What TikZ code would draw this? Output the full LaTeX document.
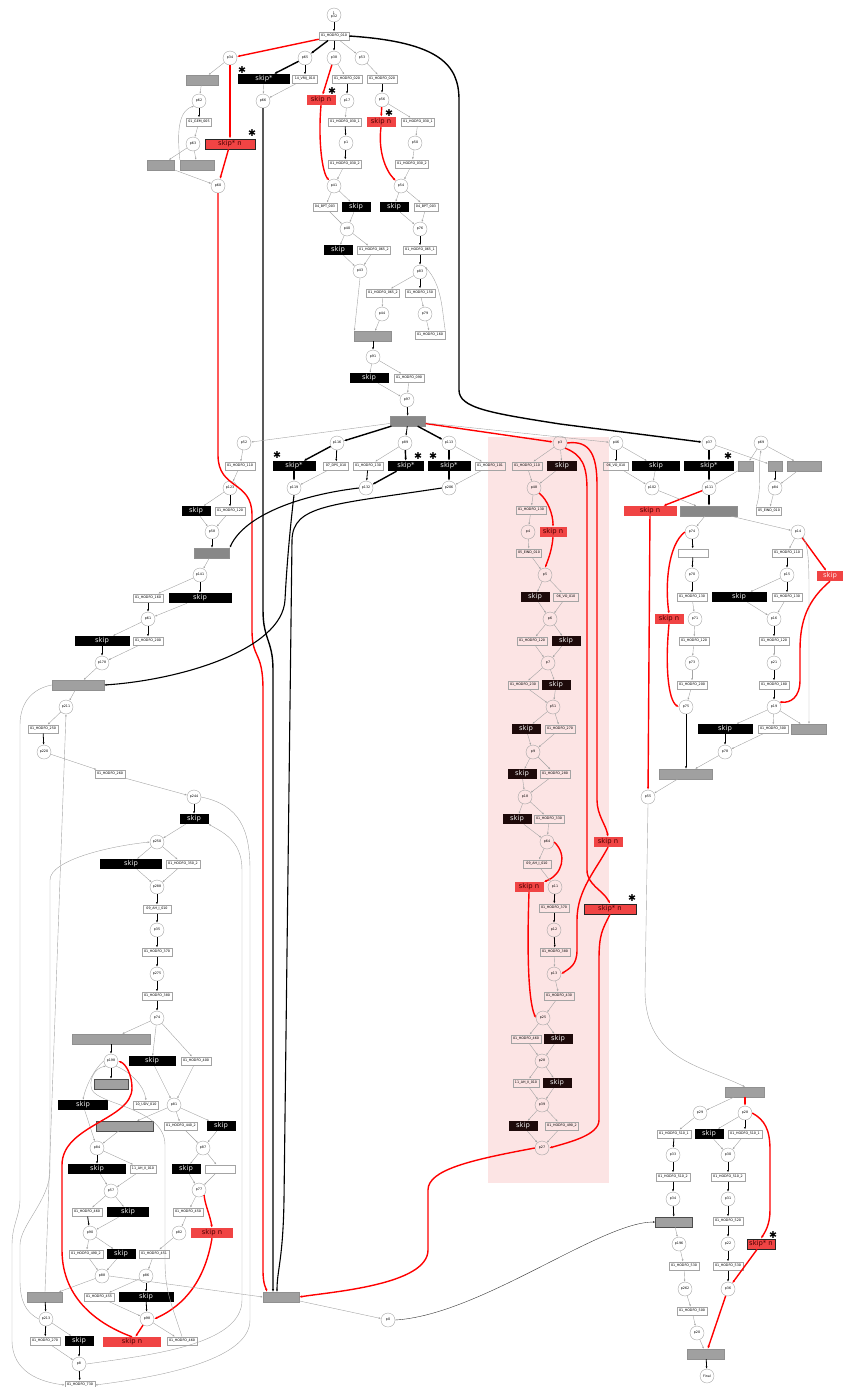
\documentclass[tikz,border=0pt]{standalone}
\usepackage{fontspec}
\setmainfont{DejaVu Sans}
\usetikzlibrary{arrows.meta}
\definecolor{pk}{HTML}{FCE4E4}
\definecolor{rd}{HTML}{F04444}
\definecolor{dk}{HTML}{1E0A0A}
\definecolor{gf}{HTML}{A0A0A0}
\definecolor{gd}{HTML}{888888}
\definecolor{ln}{HTML}{A4A4A4}
\newcommand{\lbl}{\fontsize{3.3}{3.6}\selectfont}
\newcommand{\skf}{\fontsize{6.8}{7}\selectfont}
\newcommand{\HO}[1]{01\_HODFO\_#1}
\newcommand{\mkP}[3]{\node[pl] (#1) at (#2) {#3};}
\newcommand{\mkT}[4]{\node[tr,minimum width=#2] (#1) at (#3) {#4};}
\newcommand{\mkS}[5]{\node[#1,minimum width=#3] (#2) at (#4) {#5};}
\newcommand{\mkG}[3]{\node[gb,minimum width=#2] (#1) at (#3) {};}
\newcommand{\E}[3]{\draw[#1] (#2) -- (#3);}
\begin{document}
\begin{tikzpicture}[x=1pt,y=-1pt,
 pl/.style={circle,draw=ln,line width=0.4pt,minimum size=14pt,inner sep=0pt,font=\lbl},
 tr/.style={rectangle,draw=ln,line width=0.5pt,minimum height=8.5pt,inner sep=0pt,font=\lbl},
 sk/.style={rectangle,fill=black,text=white!85!gray,minimum height=10pt,inner sep=0pt,font=\skf},
 dsk/.style={sk,fill=dk},
 rsk/.style={rectangle,fill=rd,text=black!70!red,minimum height=10pt,inner sep=0pt,font=\skf},
 rsb/.style={rsk,draw=black!85,line width=0.8pt},
 gb/.style={rectangle,fill=gf,draw=gf!90!black,line width=0.3pt,minimum height=10pt,inner sep=0pt},
 e/.style={draw=ln,line width=0.4pt,-{Latex[length=2.2pt,width=1.8pt]}},
 eb/.style={draw=black,line width=0.8pt,-{Latex[length=2.5pt,width=2pt]}},
 ebt/.style={draw=black,line width=1.4pt,-{Latex[length=3pt,width=2.5pt]}},
 er/.style={draw=red,line width=1.4pt,-{Latex[length=3pt,width=2.5pt]}},
 st/.style={font=\fontsize{9.5}{9.5}\selectfont,inner sep=0pt}]
\useasboundingbox (0,0) rectangle (843,1387);
\fill[pk] (488,437) rectangle (609,1183);
% ---------- top ----------
\node[pl,align=center] (p32) at (334,15) {1\\[-0.5pt]p32};
\mkT{t010}{30}{334,36}{\HO{010}}
\mkP{p34}{230,58}{p34}
\mkP{p65}{305,58}{p65}
\mkP{p38}{334,58}{p38}
\mkP{p53}{362,58}{p53}
\mkG{gL1}{32}{202,80}
\mkS{sk}{skA}{52}{264,79}{skip*}
\mkT{t14}{25}{305,79}{14\_VRIJ\_010}
\mkT{t020a}{30}{347,79}{\HO{020}}
\mkT{t020b}{30}{382,79}{\HO{020}}
\mkP{p62}{199,101}{p62}
\mkP{p66}{263,101}{p66}
\mkS{rsk}{snA}{29}{321,100}{skip n}
\mkP{p17}{347,101}{p17}
\mkP{p56}{382,100}{p56}
\mkT{tGEM}{25}{199,122}{01\_GEM\_005}
\mkS{rsk}{snB}{29}{381,122}{skip n}
\mkT{t0301a}{33}{345,122}{\HO{030\_1}}
\mkT{t0301b}{33}{418,122}{\HO{030\_1}}
\mkP{p63}{193,144}{p63}
\mkS{rsb}{skAn}{50}{230,144}{skip* n}
\mkP{p1}{346,143}{p1}
\mkP{p50}{415,143}{p50}
\mkG{gL2}{27}{161,165}
\mkG{gL3}{34}{197,165}
\mkT{t0302a}{33}{345,164}{\HO{030\_2}}
\mkT{t0302b}{33}{412,164}{\HO{030\_2}}
\mkP{p60}{218,186}{p60}
\mkP{p41}{334,186}{p41}
\mkP{p54}{401,186}{p54}
\mkT{tBPTa}{24}{325,207}{04\_BPT\_003}
\mkS{sk}{skB}{29}{356,207}{skip}
\mkS{sk}{skC}{29}{394,207}{skip}
\mkT{tBPTb}{24}{426,207}{04\_BPT\_003}
\mkP{p40}{347,229}{p40}
\mkP{p76}{420,229}{p76}
\mkS{sk}{skD}{29}{338,250}{skip}
\mkT{t0652a}{33}{374,250}{\HO{065\_2}}
\mkT{t0651}{33}{420,250}{\HO{065\_1}}
\mkP{p43}{360,271}{p43}
\mkP{p83}{420,272}{p83}
\mkT{t0652b}{33}{383,293}{\HO{065\_2}}
\mkT{t150}{30}{420,293}{\HO{150}}
\mkP{p44}{382,314}{p44}
\mkP{p79}{425,314}{p79}
\mkG{gM1}{37}{373,336}
\mkT{t160}{30}{430,335}{\HO{160}}
\mkP{p91}{373,357}{p91}
\mkS{sk}{skE}{39}{369,378}{skip}
\mkT{t090}{30}{409,378}{\HO{090}}
\mkP{p97}{407,400}{p97}
\node[gb,fill=gd,minimum width=35] (gBig) at (408,421) {};
% ---------- row 443 ----------
\mkP{p52}{244,443}{p52}
\mkP{p116}{337,443}{p116}
\mkP{p89}{405,443}{p89}
\mkP{p113}{449,443}{p113}
\mkP{p3}{560,443}{p3}
\mkP{p46}{616,443}{p46}
\mkP{p37}{709,443}{p37}
\mkP{p69}{761,443}{p69}
\mkT{t110a}{30}{240,466}{\HO{110}}
\mkS{sk}{skF}{43}{294,466}{skip*}
\mkT{tDPS}{25}{336,466}{07\_DPS\_010}
\mkT{t130a}{30}{368,466}{\HO{130}}
\mkS{sk}{skG}{36}{406,466}{skip*}
\mkS{sk}{skH}{43}{449,466}{skip*}
\mkT{t101}{30}{490,466}{\HO{101}}
\mkT{t110b}{30}{527,466}{\HO{110}}
\mkS{dsk}{skI}{30}{562,466}{skip}
\mkT{tVOa}{25}{616,466}{06\_VO\_010}
\mkS{sk}{skJ}{48}{656,466}{skip}
\mkS{sk}{skK}{50}{709,466}{skip*}
\mkG{gR1}{15}{746,466}
\mkG{gR2}{14}{775,466}
\mkG{gR3}{34}{804,466}
\mkP{p123}{230,488}{p123}
\mkP{p119}{294,488}{p119}
\mkP{p132}{366,488}{p132}
\mkP{p206}{449,488}{p206}
\mkP{p48}{534,488}{p48}
\mkP{p102}{652,488}{p102}
\mkP{p111}{709,488}{p111}
\mkP{p84}{775,488}{p84}
\mkS{sk}{skL}{29}{196,511}{skip}
\mkT{t120a}{30}{230,511}{\HO{120}}
\mkT{t130b}{30}{531,510}{\HO{130}}
\mkS{rsk}{snD}{53}{650,511}{skip n}
\node[gb,fill=gd,minimum width=57] (gBig2) at (709,511) {};
\mkT{tEIND2}{25}{769,511}{05\_EIND\_010}
\mkP{p58}{212,532}{p58}
\mkP{p4}{528,532}{p4}
\mkS{rsk}{snC}{27}{553,532}{skip n}
\mkP{p74r}{692,532}{p74}
\mkP{p14}{798,532}{p14}
\node[gb,fill=gd,minimum width=35] (gL4) at (212,553) {};
\mkT{tEIND}{25}{529,553}{05\_EIND\_010}
\mkT{tWhite}{30}{693,553}{}
\mkT{t110c}{30}{787,553}{\HO{110}}
\mkP{p141}{200,575}{p141}
\mkP{p5}{545,575}{p5}
\mkP{p70}{692,575}{p70}
\mkP{p15}{787,575}{p15}
\node[rsk,text=white!90!red,minimum width=26] (skRr) at (830,576) {skip};
\mkT{t160b}{30}{148,598}{\HO{160}}
\mkS{sk}{skM}{63}{200,598}{skip}
\mkS{dsk}{skN}{29}{535,597}{skip}
\mkT{tVOb}{25}{566,597}{06\_VO\_010}
\mkT{t130c}{30}{692,597}{\HO{130}}
\mkS{sk}{skO}{55}{739,597}{skip}
\mkT{t130d}{30}{787,597}{\HO{130}}
\mkP{p61}{148,619}{p61}
\mkP{p6}{550,619}{p6}
\mkS{rsk}{snE}{29}{669,619}{skip n}
\mkP{p71}{695,619}{p71}
\mkP{p16}{774,619}{p16}
\mkS{sk}{skP}{55}{102,641}{skip}
\mkT{t200a}{30}{148,641}{\HO{200}}
\mkT{t120b}{30}{532,641}{\HO{120}}
\mkS{dsk}{skQ}{29}{566,641}{skip}
\mkT{t120c}{30}{694,641}{\HO{120}}
\mkT{t120d}{30}{774,641}{\HO{120}}
\mkP{p178}{102,663}{p178}
\mkP{p7}{548,663}{p7}
\mkP{p73}{692,663}{p73}
\mkP{p21}{774,663}{p21}
\mkG{gL5}{52}{78,685}
\mkT{t230}{30}{523,685}{\HO{230}}
\mkS{dsk}{skR}{29}{556,685}{skip}
\mkT{t200b}{30}{692,685}{\HO{200}}
\mkT{t180}{30}{774,685}{\HO{180}}
\mkP{p211}{66,707}{p211}
\mkP{p51}{553,707}{p51}
\mkP{p75}{686,707}{p75}
\mkP{p19}{774,707}{p19}
\mkT{t250}{30}{43,729}{\HO{250}}
\mkS{dsk}{skS}{29}{526,729}{skip}
\mkT{t270a}{30}{560,729}{\HO{270}}
\mkS{sk}{skT}{55}{725,729}{skip}
\mkT{t300}{30}{773,729}{\HO{300}}
\mkG{gR4}{35}{809,729}
\mkP{p220}{44,752}{p220}
\mkP{p9}{533,752}{p9}
\mkP{p78}{725,752}{p78}
\mkT{t260}{30}{110,774}{\HO{260}}
\mkS{dsk}{skU}{29}{522,774}{skip}
\mkT{t280}{30}{555,774}{\HO{280}}
\mkG{gR5}{53}{686,774}
\mkP{p244}{194,797}{p244}
\mkP{p18}{525,797}{p18}
\mkP{p55}{648,797}{p55}
\mkS{sk}{skV}{29}{194,819}{skip}
\mkS{dsk}{skW}{29}{517,819}{skip}
\mkT{t330}{30}{549,819}{\HO{330}}
\mkP{p250}{157,842}{p250}
\mkP{p64}{547,842}{p64}
\mkS{rsk}{snF}{29}{608,842}{skip n}
\mkS{sk}{skX}{62}{131,864}{skip}
\mkT{t3502}{34}{183,864}{\HO{350\_2}}
\mkT{tAHb}{28}{537,864}{09\_AH\_I\_010}
\mkP{p288}{157,887}{p288}
\mkS{rsk}{snG}{29}{529,887}{skip n}
\mkP{p11}{555,887}{p11}
\mkT{tAH}{28}{157,909}{09\_AH\_I\_010}
\mkT{t370b}{30}{554,908}{\HO{370}}
\mkS{rsb}{snH}{52}{610,909}{skip* n}
\mkP{p35}{157,930}{p35}
\mkP{p12}{554,930}{p12}
\mkT{t370}{30}{157,952}{\HO{370}}
\mkT{t380b}{30}{555,952}{\HO{380}}
\mkP{p275}{157,974}{p275}
\mkP{p13}{554,974}{p13}
\mkT{t380}{30}{157,996}{\HO{380}}
\mkT{t430}{30}{559,996}{\HO{430}}
\mkP{p74}{157,1018}{p74}
\mkP{p25}{543,1018}{p25}
\mkG{gL6}{78}{111,1039}
\mkT{t460b}{30}{526,1039}{\HO{460}}
\mkS{dsk}{skY}{29}{558,1039}{skip}
\mkP{p198}{111,1061}{p198}
\mkS{sk}{skZ}{47}{152,1061}{skip}
\mkT{t400}{30}{196,1061}{\HO{400}}
\mkP{p28}{542,1061}{p28}
\node[gb,draw=gray!60!black,minimum width=34] (gL7) at (111,1084) {};
\mkT{tAH2b}{26}{526,1083}{11\_AH\_II\_010}
\mkS{dsk}{skAA}{29}{557,1083}{skip}
\mkG{gR6}{39}{745,1092}
\mkS{sk}{skAB}{50}{83,1105}{skip}
\mkT{tUDV}{25}{146,1105}{10\_UDV\_010}
\mkP{p81}{174,1105}{p81}
\mkP{p39}{542,1105}{p39}
\mkP{p29}{700,1113}{p29}
\mkP{p28r}{745,1113}{p28}
\node[gb,draw=gray!60!black,minimum width=57] (gL8) at (125,1126) {};
\mkT{t4402}{33}{181,1126}{\HO{440\_2}}
\mkS{sk}{skAC}{29}{221,1126}{skip}
\mkS{dsk}{skAD}{29}{523,1126}{skip}
\mkT{t4902b}{33}{562,1126}{\HO{490\_2}}
\mkT{t5101a}{34}{674,1134}{\HO{510\_1}}
\mkS{sk}{skAE}{29}{709,1134}{skip}
\mkT{t5101b}{34}{745,1134}{\HO{510\_1}}
\mkP{p94}{97,1148}{p84}
\mkP{p87}{203,1148}{p87}
\mkP{p27}{542,1148}{p27}
\mkP{p33}{673,1155}{p33}
\mkP{p30}{728,1155}{p30}
\mkS{sk}{skAF}{58}{97,1169}{skip}
\mkT{tAH2}{26}{143,1169}{11\_AH\_II\_010}
\mkS{sk}{skAG}{29}{186,1169}{skip}
\mkT{tEmpty}{30}{220,1169}{}
\mkT{t5102a}{34}{673,1177}{\HO{510\_2}}
\mkT{t5102b}{34}{728,1177}{\HO{510\_2}}
\mkP{p57}{111,1191}{p57}
\mkP{p77}{199,1190}{p77}
\mkP{p24}{673,1199}{p34}
\mkP{p31}{728,1199}{p31}
\mkT{t460a}{30}{87,1212}{\HO{460}}
\mkS{sk}{skAH}{42}{128,1212}{skip}
\mkT{t450}{30}{188,1212}{\HO{450}}
\node[gb,draw=gray!60!black,minimum width=37] (gR7) at (674,1222) {};
\mkT{t520}{30}{728,1221}{\HO{520}}
\mkP{p90}{90,1233}{p90}
\mkP{p82}{179,1233}{p82}
\mkS{rsk}{snI}{42}{212,1233}{skip n}
\mkP{p196}{679,1244}{p196}
\mkP{p22}{728,1244}{p22}
\mkS{rsb}{snJ}{28}{761,1244}{skip* n}
\mkT{t4902}{34}{86,1254}{\HO{490\_2}}
\mkS{sk}{skAI}{29}{121,1254}{skip}
\mkT{t451}{30}{154,1254}{\HO{451}}
\mkT{t530a}{30}{684,1266}{\HO{530}}
\mkT{t530b}{30}{728,1266}{\HO{530}}
\mkP{p88}{102,1276}{p88}
\mkP{p86}{146,1276}{p86}
\mkP{p262}{685,1289}{p262}
\mkP{p36}{728,1289}{p36}
\mkG{gL9}{35}{45,1297}
\mkT{t455}{30}{99,1297}{\HO{455}}
\mkS{sk}{skAJ}{55}{146,1297}{skip}
\mkG{gBot}{36}{281,1297}
\mkT{t500}{30}{692,1311}{\HO{500}}
\mkP{p213}{46,1319}{p213}
\mkP{p98}{147,1319}{p98}
\mkP{p0}{388,1320}{p0}
\mkP{p20}{697,1333}{p20}
\mkT{t270}{30}{45,1341}{\HO{270}}
\mkS{sk}{skAK}{29}{79,1341}{skip}
\mkS{rsk}{snK}{58}{132,1342}{skip n}
\mkT{t460c}{30}{182,1341}{\HO{460}}
\mkG{gR8}{37}{706,1354}
\mkP{p8}{79,1364}{p8}
\mkP{Final}{707,1376}{Final}
\mkT{t730}{30}{80,1385}{\HO{730}}
% stars
\node[st] (s1) at (242,70) {✱};
\node[st] (s2) at (332,91) {✱};
\node[st] (s3) at (389,113) {✱};
\node[st] (s4) at (252,133) {✱};
\node[st] (s5) at (277,455) {✱};
\node[st] (s6) at (418,456) {✱};
\node[st] (s7) at (433,456) {✱};
\node[st] (s8) at (728,456) {✱};
\node[st] (s9) at (632,898) {✱};
\node[st] (s10) at (773,1235) {✱};
% ---------- edges top ----------
\E{eb}{p32}{t010}
\E{er}{t010}{p34}
\E{ebt}{t010}{p65}
\E{eb}{t010}{p38}
\E{e}{t010}{p53}
\draw[ebt] (t010.east) .. controls (440,42) and (459,65) .. (459,100) -- (459,390) .. controls (459,408) and (490,413) .. (560,424) -- (p37);
\E{e}{p34}{gL1}
\E{er}{p34}{skAn}
\E{e}{gL1}{p62}
\E{eb}{p62}{tGEM}
\E{e}{tGEM}{p63}
\E{e}{p63}{gL2}
\E{e}{p63}{gL3}
\draw[e] (gL3.north west) .. controls (178,140) and (176,112) .. (p62.south west);
\E{e}{gL2}{p60}
\E{er}{skAn}{p60}
\draw[er] (p60.south) -- (218,455) .. controls (218,490) and (252,480) .. (252,515) -- (252,630) .. controls (252,660) and (263,650) .. (263,690) -- (263,1270) .. controls (263,1285) and (266,1288) .. (267,1292);
\E{ebt}{p65}{skA}
\E{eb}{p65}{t14}
\E{e}{skA}{p66}
\E{e}{t14}{p66}
\draw[ebt] (p66.south) -- (263,610) .. controls (263,640) and (273,640) .. (273,670) -- (273,1292);
\E{er}{p38}{snA}
\E{e}{p38}{t020a}
\draw[er] (snA.south) .. controls (318,140) and (322,172) .. (p41);
\E{eb}{t020a}{p17}
\E{e}{p17}{t0301a}
\E{eb}{t0301a}{p1}
\E{eb}{p1}{t0302a}
\E{e}{t0302a}{p41}
\E{e}{p41}{tBPTa}
\E{e}{p41}{skB}
\E{e}{tBPTa}{p40}
\E{e}{skB}{p40}
\E{e}{p40}{skD}
\E{e}{p40}{t0652a}
\E{e}{skD}{p43}
\E{e}{t0652a}{p43}
\draw[e] (p43.south) -- (gM1.north west);
\E{e}{p53}{t020b}
\E{eb}{t020b}{p56}
\E{er}{p56}{snB}
\E{e}{p56}{t0301b}
\E{e}{t0301b}{p50}
\E{e}{p50}{t0302b}
\E{e}{t0302b}{p54}
\draw[er] (snB.south) .. controls (378,150) and (385,170) .. (p54);
\E{e}{p54}{skC}
\E{e}{p54}{tBPTb}
\E{e}{skC}{p76}
\E{e}{tBPTb}{p76}
\E{eb}{p76}{t0651}
\E{eb}{t0651}{p83}
\E{e}{p83}{t0652b}
\E{eb}{p83}{t150}
\E{e}{t0652b}{p44}
\E{e}{t150}{p79}
\E{e}{p79}{t160}
\draw[e] (t160.north east) .. controls (442,310) and (442,285) .. (p83.north east);
\E{e}{p44}{gM1}
\E{eb}{gM1}{p91}
\E{e}{p91}{skE}
\E{e}{p91}{t090}
\E{e}{skE}{p97}
\E{e}{t090}{p97}
\E{eb}{p97}{gBig}
\E{e}{gBig}{p52}
\E{ebt}{gBig}{p116}
\E{eb}{gBig}{p89}
\E{ebt}{gBig}{p113}
\E{er}{gBig}{p3}
\E{e}{gBig}{p46}
% ---------- middle ----------
\E{ebt}{p116}{skF}
\E{eb}{p116}{tDPS}
\E{ebt}{skF}{p119}
\E{e}{tDPS}{p119}
\E{e}{p89}{t130a}
\E{ebt}{p89}{skG}
\E{eb}{t130a}{p132}
\E{ebt}{skG}{p132}
\E{ebt}{p113}{skH}
\E{e}{p113}{t101}
\E{ebt}{skH}{p206}
\E{e}{t101}{p206}
\draw[eb,line width=1.1pt] (p132.west) .. controls (300,495) and (245,515) .. (gL4.north east);
\draw[eb,line width=1.1pt] (p119.south) .. controls (291,520) and (287,560) .. (285,600) .. controls (282,650) and (180,680) .. (gL5.east);
\draw[eb,line width=1.1pt] (p206.west) .. controls (330,505) and (293,505) .. (292,540) -- (284,1200) .. controls (283,1260) and (277,1270) .. (277,1292);
% left column
\E{e}{p52}{t110a}
\E{e}{t110a}{p123}
\E{e}{p123}{skL}
\E{eb}{p123}{t120a}
\E{e}{skL}{p58}
\E{e}{t120a}{p58}
\E{eb}{p58}{gL4}
\E{e}{gL4}{p141}
\E{e}{p141}{t160b}
\E{eb}{p141}{skM}
\E{eb}{t160b}{p61}
\E{e}{skM}{p61}
\E{e}{p61}{skP}
\E{eb}{p61}{t200a}
\E{eb}{skP}{p178}
\E{e}{t200a}{p178}
\E{e}{p178}{gL5}
\E{e}{gL5}{p211}
\draw[e] (gL5.west) .. controls (35,688) and (20,700) .. (20,725) -- (20,1200) .. controls (20,1215) and (12,1225) .. (12,1245) -- (12,1340) .. controls (12,1372) and (40,1382) .. (t730.west);
\E{e}{p211}{t250}
\E{eb}{t250}{p220}
\E{e}{p220}{t260}
\E{e}{t260}{p244}
\E{eb}{p244}{skV}
\E{e}{skV}{p250}
\E{e}{p250}{skX}
\E{e}{p250}{t3502}
\E{e}{skX}{p288}
\E{e}{t3502}{p288}
\E{eb}{p288}{tAH}
\E{eb}{tAH}{p35}
\E{eb}{p35}{t370}
\E{eb}{t370}{p275}
\E{eb}{p275}{t380}
\E{eb}{t380}{p74}
\E{e}{p74}{gL6}
\E{e}{p74}{skZ}
\E{e}{p74}{t400}
\E{eb}{gL6}{p198}
\E{eb}{p198}{gL7}
\draw[e] (p198.west) .. controls (95,1068) and (86,1085) .. (skAB.north);
\draw[e] (p198.south east) .. controls (130,1072) and (144,1085) .. (tUDV.north);
\E{e}{skZ}{p81}
\E{e}{t400}{p81}
\E{e}{p81}{gL8}
\E{e}{p81}{t4402}
\E{e}{p81}{skAC}
\E{e}{skAB}{p94}
\E{e}{gL8}{p94}
\E{eb}{p94}{skAF}
\E{e}{p94}{tAH2}
\E{e}{skAF}{p57}
\E{e}{tAH2}{p57}
\E{e}{p57}{t460a}
\E{e}{p57}{skAH}
\E{eb}{t460a}{p90}
\E{e}{skAH}{p90}
\E{e}{p90}{t4902}
\E{e}{p90}{skAI}
\E{e}{t4902}{p88}
\E{e}{skAI}{p88}
\E{e}{t4402}{p87}
\E{e}{skAC}{p87}
\E{e}{p87}{skAG}
\E{e}{p87}{tEmpty}
\E{e}{skAG}{p77}
\E{e}{tEmpty}{p77}
\E{e}{p77}{t450}
\draw[er] (p77.south east) .. controls (205,1205) and (210,1215) .. (snI.north);
\E{e}{t450}{p82}
\E{e}{p82}{t451}
\E{e}{t451}{p86}
\E{e}{p86}{t455}
\E{eb}{p86}{skAJ}
\E{e}{t455}{p98}
\E{eb}{skAJ}{p98}
\draw[er] (snI.south) .. controls (205,1280) and (185,1305) .. (p98.east);
\E{er}{p98}{snK}
\E{e}{p98}{t460c}
\E{e}{p88}{gL9}
\draw[e] (p88.east) -- (gBot.west);
\E{eb}{gL9}{p213}
\draw[e] (gL9.north) -- (p211.south);
\E{eb}{p213}{t270}
\E{e}{p213}{skAK}
\E{e}{t270}{p8}
\E{eb}{skAK}{p8}
\E{eb}{p8}{t730}
\draw[e] (p8.east) .. controls (150,1355) and (242,1345) .. (242,1300) -- (242,870) .. controls (242,840) and (222,832) .. (skV.south east);
\draw[e] (p244.east) .. controls (240,805) and (250,830) .. (250,870) -- (250,1320) .. controls (250,1362) and (150,1378) .. (t730.east);
\draw[e] (p213.west) .. controls (25,1312) and (20,1300) .. (20,1280) -- (20,1245) .. controls (20,1225) and (50,1200) .. (50,1170) -- (50,880) .. controls (50,860) and (110,846) .. (p250.west);
\draw[er] (snK.north) .. controls (100,1325) and (62,1300) .. (62,1250) -- (62,1165) .. controls (62,1125) and (132,1120) .. (132,1088) .. controls (132,1075) and (126,1064) .. (p198.east);
\draw[e] (t460c.north) .. controls (170,1300) and (165,1290) .. (165,1260) -- (165,1145) .. controls (165,1108) and (100,1105) .. (92,1090) .. controls (88,1080) and (95,1068) .. (p198.south west);
% ---------- pink column ----------
\E{e}{p3}{t110b}
\E{e}{p3}{skI}
\E{e}{t110b}{p48}
\E{e}{skI}{p48}
\E{e}{p48}{t130b}
\draw[er] (p48.south east) .. controls (548,500) and (553,515) .. (snC.north);
\E{e}{t130b}{p4}
\E{e}{p4}{tEIND}
\E{e}{tEIND}{p5}
\draw[er] (snC.south) .. controls (552,550) and (548,560) .. (p5.north);
\E{e}{p5}{skN}
\E{e}{p5}{tVOb}
\E{e}{skN}{p6}
\E{e}{tVOb}{p6}
\E{e}{p6}{t120b}
\E{e}{p6}{skQ}
\E{e}{t120b}{p7}
\E{e}{skQ}{p7}
\E{e}{p7}{t230}
\E{e}{p7}{skR}
\E{e}{t230}{p51}
\E{e}{skR}{p51}
\E{e}{p51}{skS}
\E{e}{p51}{t270a}
\E{e}{skS}{p9}
\E{e}{t270a}{p9}
\E{e}{p9}{skU}
\E{e}{p9}{t280}
\E{e}{skU}{p18}
\E{e}{t280}{p18}
\E{e}{p18}{skW}
\E{e}{p18}{t330}
\E{e}{skW}{p64}
\E{e}{t330}{p64}
\E{e}{p64}{tAHb}
\draw[er] (p64.east) .. controls (568,855) and (562,875) .. (snG.north east);
\E{e}{tAHb}{p11}
\E{eb}{p11}{t370b}
\E{eb}{t370b}{p12}
\E{eb}{p12}{t380b}
\E{e}{t380b}{p13}
\E{e}{p13}{t430}
\E{e}{t430}{p25}
\draw[er] (snG.south) .. controls (527,950) and (528,1000) .. (p25.west);
\E{e}{p25}{t460b}
\E{e}{p25}{skY}
\E{e}{t460b}{p28}
\E{e}{skY}{p28}
\E{e}{p28}{tAH2b}
\E{e}{p28}{skAA}
\E{e}{tAH2b}{p39}
\E{e}{skAA}{p39}
\E{e}{p39}{skAD}
\E{e}{p39}{t4902b}
\E{e}{skAD}{p27}
\E{e}{t4902b}{p27}
\draw[er] (p3.east) .. controls (590,440) and (597,455) .. (597,485) -- (597,800) .. controls (597,815) and (606,825) .. (snF.north);
\draw[er] (p3.south east) .. controls (582,455) and (587,465) .. (587,490) -- (587,870) .. controls (587,885) and (603,890) .. (snH.north);
\draw[er] (snF.south) .. controls (596,870) and (577,890) .. (577,920) -- (577,950) .. controls (577,965) and (570,968) .. (p13.east);
\draw[er] (snH.south) .. controls (602,930) and (599,935) .. (599,960) -- (599,1120) .. controls (599,1135) and (570,1142) .. (p27.east);
\draw[er] (p27.west) .. controls (470,1160) and (428,1170) .. (428,1190) -- (428,1250) .. controls (428,1285) and (330,1292) .. (gBot.east);
% ---------- right ----------
\E{eb}{p46}{tVOa}
\E{e}{p46}{skJ}
\E{e}{tVOa}{p102}
\E{e}{skJ}{p102}
\E{er}{p111}{snD}
\E{e}{p102}{gBig2}
\E{er}{snD}{p55}
\E{ebt}{p37}{skK}
\E{e}{p37}{gR2}
\E{e}{p69}{gR1}
\E{e}{p69}{gR3}
\E{ebt}{skK}{p111}
\E{e}{gR1}{p111}
\E{eb}{gR2}{p84}
\E{e}{gR3}{p84}
\E{e}{p84}{tEIND2}
\draw[e] (tEIND2.north west) .. controls (762,490) and (758,465) .. (p69.south);
\E{ebt}{p111}{gBig2}
\E{e}{gBig2}{p74r}
\E{e}{gBig2}{p14}
\E{eb}{p74r}{tWhite}
\E{eb}{tWhite}{p70}
\E{eb}{p70}{t130c}
\E{e}{t130c}{p71}
\E{e}{p71}{t120c}
\E{e}{t120c}{p73}
\E{e}{p73}{t200b}
\E{e}{t200b}{p75}
\draw[er] (p74r.west) .. controls (668,545) and (665,585) .. (snE.north);
\draw[er] (snE.south) .. controls (665,665) and (668,700) .. (p75.west);
\E{eb}{p75}{gR5}
\E{e}{p14}{t110c}
\E{eb}{t110c}{p15}
\E{e}{p15}{skO}
\E{eb}{p15}{t130d}
\E{e}{skO}{p16}
\E{e}{t130d}{p16}
\E{eb}{p16}{t120d}
\E{e}{t120d}{p21}
\E{eb}{p21}{t180}
\E{eb}{t180}{p19}
\E{er}{p14}{skRr}
\draw[er] (skRr.south) .. controls (808,600) and (800,620) .. (800,650) -- (800,680) .. controls (800,698) and (790,703) .. (p19.north east);
\draw[e] (p14.south east) .. controls (808,545) and (809,560) .. (809,590) -- (gR4.north);
\E{e}{p19}{skT}
\E{e}{p19}{t300}
\E{e}{p19}{gR4}
\E{eb}{skT}{p78}
\E{e}{t300}{p78}
\E{e}{p78}{gR5}
\E{e}{gR5}{p55}
\draw[e] (p55.south) -- (645,990) .. controls (645,1060) and (700,1065) .. (gR6.north);
% ---------- bottom right ----------
\E{e}{gR6}{p29}
\E{er}{gR6}{p28r}
\E{e}{p29}{t5101a}
\E{eb}{t5101a}{p33}
\E{eb}{p33}{t5102a}
\E{eb}{t5102a}{p24}
\E{eb}{p24}{gR7}
\E{e}{p28r}{skAE}
\E{eb}{p28r}{t5101b}
\draw[er] (p28r.east) .. controls (765,1120) and (770,1130) .. (770,1150) -- (770,1210) .. controls (770,1225) and (765,1232) .. (snJ.north);
\E{e}{skAE}{p30}
\E{e}{t5101b}{p30}
\E{eb}{p30}{t5102b}
\E{eb}{t5102b}{p31}
\E{eb}{p31}{t520}
\E{eb}{t520}{p22}
\E{eb}{p22}{t530b}
\E{eb}{t530b}{p36}
\E{er}{snJ}{p36}
\E{e}{gR7}{p196}
\E{e}{p196}{t530a}
\E{e}{t530a}{p262}
\E{e}{p262}{t500}
\E{e}{t500}{p20}
\E{e}{p20}{gR8}
\E{er}{p36}{gR8}
\E{eb}{gR8}{Final}
\E{e}{gBot}{p0}
\draw[e,draw=gray!40!black] (p0.east) .. controls (480,1315) and (600,1222) .. (gR7.west);
\end{tikzpicture}
\end{document}
